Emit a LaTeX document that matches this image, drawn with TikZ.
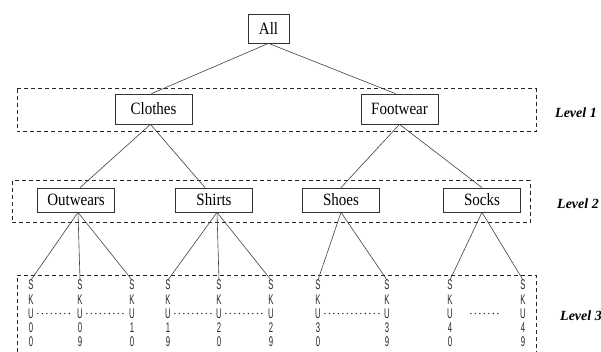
\documentclass[tikz,border=0pt]{standalone}
\usepackage{graphicx}
\usepackage{fontspec}
\setmainfont{Liberation Serif}
\newfontfamily\skufont{Liberation Sans}
\newcommand\st[1]{\scalebox{1}[1.15]{#1}}
\newcommand\nx[1]{\scalebox{0.55}[1]{#1}}
\newcommand\skutext[2]{\nx{S}\\\nx{K}\\\nx{U}\\\nx{#1}\\\nx{#2}}
\begin{document}
\begin{tikzpicture}[x=1pt,y=-1pt,
  box/.style={draw=black!80, line width=0.7pt, minimum width=77pt, inner sep=0pt, font=\fontsize{15}{18}\selectfont},
  lvlbox/.style={draw=black!85, line width=1pt, dash pattern=on 4pt off 3pt},
  edge/.style={draw=black!75, line width=0.6pt},
  lvl/.style={font=\fontsize{14}{16}\selectfont\bfseries\itshape, anchor=west, inner sep=0pt},
  sku/.style={inner sep=0pt, align=center, font=\skufont\fontsize{14}{14.2}\selectfont, text=black!85},
  dots/.style={draw=black!85, line width=1.5pt, line cap=round, dash pattern=on 0pt off 4.5pt, shorten <=4pt, shorten >=4pt}]
\useasboundingbox (0,0) rectangle (601,352);

\draw[lvlbox] (17,89) rectangle (536,132);
\draw[lvlbox] (12,181) rectangle (530,223);
\draw[lvlbox] (17,352) -- (17,275) -- (536,275) -- (536,352);

\node[box, minimum width=41pt, minimum height=29pt] (all) at (268.5,28.5) {\st{All}};
\node[box, minimum height=30pt] (clothes) at (153.5,109) {\st{Clothes}};
\node[box, minimum height=30pt] (footwear) at (399.5,109) {\st{Footwear}};
\node[box, minimum height=24pt] (outwears) at (76,200) {\st{Outwears}};
\node[box, minimum height=24pt] (shirts) at (214,200) {\st{Shirts}};
\node[box, minimum height=24pt] (shoes) at (341,200) {\st{Shoes}};
\node[box, minimum height=24pt] (socks) at (482,200) {\st{Socks}};

\node[lvl] (l1) at (555,113) {Level 1};
\node[lvl] (l2) at (557,204) {Level 2};
\node[lvl] (l3) at (560,316) {Level 3};

\node[sku] (s00) at (31,313.5) {\skutext{0}{0}};
\node[sku] (s09) at (80,313.5) {\skutext{0}{9}};
\node[sku] (s10) at (132,313.5) {\skutext{1}{0}};
\node[sku] (s19) at (168,313.5) {\skutext{1}{9}};
\node[sku] (s20) at (219,313.5) {\skutext{2}{0}};
\node[sku] (s29) at (271,313.5) {\skutext{2}{9}};
\node[sku] (s30) at (318,313.5) {\skutext{3}{0}};
\node[sku] (s39) at (387,313.5) {\skutext{3}{9}};
\node[sku] (s40) at (450,313.5) {\skutext{4}{0}};
\node[sku] (s49) at (523,313.5) {\skutext{4}{9}};

\draw[edge] (all.south) -- ([xshift=-2pt]clothes.north);
\draw[edge] (all.south) -- ([xshift=-4pt]footwear.north);
\draw[edge] ([xshift=-3pt]clothes.south) -- ([xshift=4pt]outwears.north);
\draw[edge] ([xshift=-3pt]clothes.south) -- ([xshift=-9pt]shirts.north);
\draw[edge] (footwear.south) -- (shoes.north);
\draw[edge] (footwear.south) -- (socks.north);
\draw[edge] ([xshift=2pt]outwears.south) -- (s00.north);
\draw[edge] ([xshift=2pt]outwears.south) -- (s09.north);
\draw[edge] ([xshift=2pt]outwears.south) -- (s10.north);
\draw[edge] ([xshift=3pt]shirts.south) -- (s19.north);
\draw[edge] ([xshift=3pt]shirts.south) -- (s20.north);
\draw[edge] ([xshift=3pt]shirts.south) -- (s29.north);
\draw[edge] (shoes.south) -- (s30.north);
\draw[edge] (shoes.south) -- (s39.north);
\draw[edge] (socks.south) -- (s40.north);
\draw[edge] (socks.south) -- (s49.north);

\draw[dots] (s00.east) -- (s09.west);
\draw[dots] (s09.east) -- (s10.west);
\draw[dots] (s19.east) -- (s20.west);
\draw[dots] (s20.east) -- (s29.west);
\draw[dots] (s30.east) -- (s39.west);
\draw[dots, shorten <=18pt, shorten >=20pt] (s40.east) -- (s49.west);
\end{tikzpicture}
\end{document}
